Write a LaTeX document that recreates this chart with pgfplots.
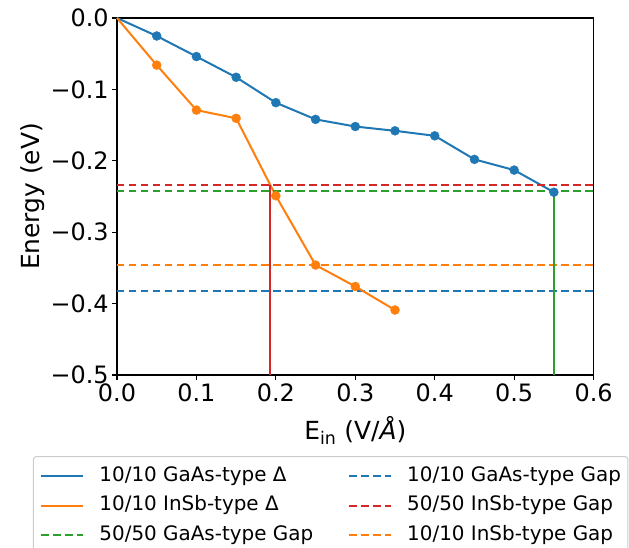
\documentclass[border=0pt]{standalone}
\usepackage{fontspec}
\setmainfont{DejaVu Sans}
\usepackage{pgfplots}
\pgfplotsset{compat=1.18}
\definecolor{c0}{HTML}{1F77B4}
\definecolor{c1}{HTML}{FF7F0E}
\definecolor{c2}{HTML}{2CA02C}
\definecolor{c3}{HTML}{D62728}
\begin{document}
\begin{tikzpicture}
\begin{axis}[
  scale only axis,
  width=476.6bp, height=357bp,
  xmin=0, xmax=0.6, ymin=-0.5, ymax=0,
  xtick={0,0.1,0.2,0.3,0.4,0.5,0.6},
  xticklabels={0.0,0.1,0.2,0.3,0.4,0.5,0.6},
  ytick={-0.5,-0.4,-0.3,-0.2,-0.1,0},
  yticklabels={−0.5,−0.4,−0.3,−0.2,−0.1,0.0},
  tick label style={font=\fontsize{24}{28}\selectfont},
  tick align=outside, tick pos=left,
  major tick length=4.9bp,
  every tick/.style={black, line width=1.1bp},
  axis line style={black, line width=1.1bp},
  xlabel={E\textsubscript{in} (V/\textit{Å})},
  ylabel={Energy (eV)},
  label style={font=\fontsize{25}{30}\selectfont},
  xlabel style={at={(axis description cs:0.5,-0.182)}, anchor=base},
  ylabel style={at={(axis description cs:-0.178,0.5)}, anchor=center},
  legend columns=2,
  legend cell align=left,
  legend image code/.code={\draw[#1] (0bp,0bp) -- (42bp,0bp);},
  legend style={font=\fontsize{20}{24}\selectfont,
    at={(-0.1763,-0.2269)}, anchor=north west,
    draw=black!20, rounded corners=3bp, line width=1bp,
    inner xsep=7bp, inner ysep=9.5bp,
    row sep=9.5bp,
    nodes={inner sep=0pt, text height=15bp, text depth=5bp},
    /tikz/every odd column/.append style={column sep=15bp},
    /tikz/every even column/.append style={column sep=35bp}},
  clip=false,
]
\coordinate (O) at (rel axis cs:0,0);
% legend row 1
\addplot[c0, line width=2bp] coordinates {(0,0) (0.05,-0.0252) (0.1,-0.054) (0.15,-0.083) (0.2,-0.1186) (0.25,-0.142) (0.3,-0.152) (0.35,-0.158) (0.4,-0.165) (0.45,-0.198) (0.5,-0.213) (0.55,-0.244)};
\addlegendentry{10/10 GaAs-type Δ}
\addplot[c0, line width=2bp, dash pattern=on 7.5bp off 4.5bp] coordinates {(0,-0.382) (0.6,-0.382)};
\addlegendentry{10/10 GaAs-type Gap}
% row 2
\addplot[c1, line width=2bp] coordinates {(0,0) (0.05,-0.066) (0.1,-0.129) (0.15,-0.1405) (0.2,-0.249) (0.25,-0.346) (0.3,-0.376) (0.35,-0.409)};
\addlegendentry{10/10 InSb-type Δ}
\addplot[c3, line width=2bp, dash pattern=on 7.5bp off 4.5bp] coordinates {(0,-0.2335) (0.6,-0.2335)};
\addlegendentry{50/50 InSb-type Gap}
% row 3
\addplot[c2, line width=2bp, dash pattern=on 7.5bp off 4.5bp] coordinates {(0,-0.242) (0.6,-0.242)};
\addlegendentry{50/50 GaAs-type Gap}
\addplot[c1, line width=2bp, dash pattern=on 7.5bp off 4.5bp] coordinates {(0,-0.346) (0.6,-0.346)};
\addlegendentry{10/10 InSb-type Gap}
% vertical lines
\addplot[c3, line width=2bp, forget plot] coordinates {(0.1926,-0.5) (0.1926,-0.2335)};
\addplot[c2, line width=2bp, forget plot] coordinates {(0.55,-0.5) (0.55,-0.242)};
% markers
\addplot[only marks, mark=*, mark size=4.5bp, c0, forget plot] coordinates {(0.05,-0.0252) (0.1,-0.054) (0.15,-0.083) (0.2,-0.1186) (0.25,-0.142) (0.3,-0.152) (0.35,-0.158) (0.4,-0.165) (0.45,-0.198) (0.5,-0.213) (0.55,-0.244)};
\addplot[only marks, mark=*, mark size=4.5bp, c1, forget plot] coordinates {(0.05,-0.066) (0.1,-0.129) (0.15,-0.1405) (0.2,-0.249) (0.25,-0.346) (0.3,-0.376) (0.35,-0.409)};
\end{axis}
\pgfresetboundingbox
\useasboundingbox ([shift={(-117bp,-173bp)}]O) rectangle ([shift={(512bp,375bp)}]O);
\end{tikzpicture}
\end{document}
